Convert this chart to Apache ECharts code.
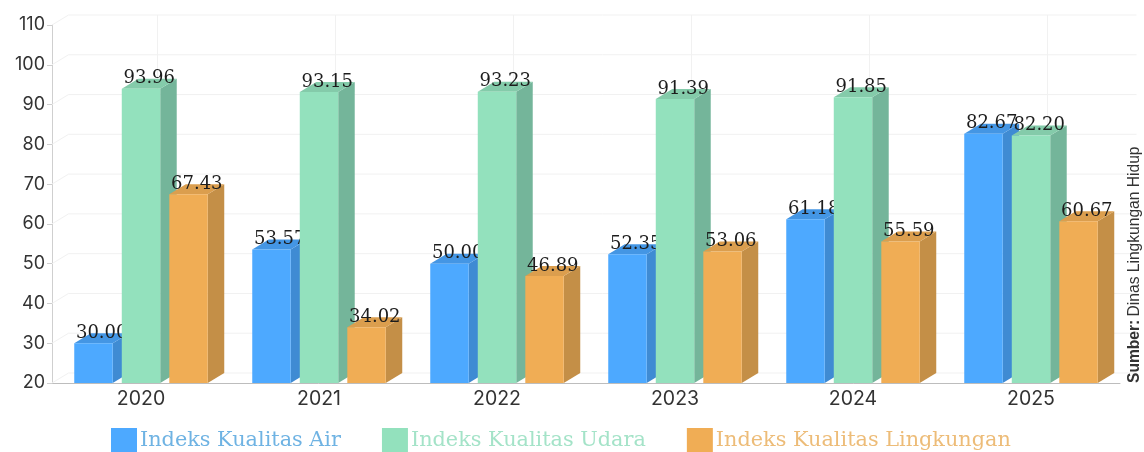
<!DOCTYPE html>
<html><head><meta charset="utf-8">
<style>html,body{margin:0;padding:0;background:#fff}#c{width:1144px;height:452px}</style>
<script src="https://cdn.jsdelivr.net/npm/echarts@6/dist/echarts.min.js"></script>
</head><body><div id="c"></div>
<script>
const categories = ['2020','2021','2022','2023','2024','2025'];
const airValues = [30.00,53.57,50.00,52.35,61.18,82.67];
const udaraValues = [93.96,93.15,93.23,91.39,91.85,82.20];
const lingkunganValues = [67.43,34.02,46.89,53.06,55.59,60.67];
const yTicks = [20,30,40,50,60,70,80,90,100,110];
const seriesNames = ['Indeks Kualitas Air','Indeks Kualitas Udara','Indeks Kualitas Lingkungan'];
const legendTextColors = ['#6FB3E3','#A4E3C8','#EDBC78'];

const DX = 16.5, DY = 10;
const BAR = 0.216, GAP = 0.267;
const shades = [
  {front:'#4DA9FF', side:'#3F8BD3', top:'#4496E4'},
  {front:'#93E1BD', side:'#74B59A', top:'#84CBAA'},
  {front:'#F0AD55', side:'#C48F47', top:'#DB9E4E'}
];
function poly(pts, fill){ return {type:'polygon', shape:{points:pts}, style:{fill:fill}}; }
function barRender(si){
  return function(params, api){
    const cat = api.value(0), val = api.value(1);
    const step = api.size([1,0])[0];
    const w = step*BAR;
    const top = api.coord([cat,val]), base = api.coord([cat,20]);
    const x0 = top[0] + (si-1)*step*GAP - w/2, x1 = x0 + w, yt = top[1], yb = base[1];
    const c = shades[si];
    return {type:'group', children:[
      poly([[x1,yb],[x1+DX,yb-DY],[x1+DX,yt-DY],[x1,yt]], c.side),
      poly([[x0,yt],[x1,yt],[x1+DX,yt-DY],[x0+DX,yt-DY]], c.top),
      {type:'rect', shape:{x:x0,y:yt,width:w,height:yb-yt}, style:{fill:c.front}},
      {type:'text', style:{text:val.toFixed(2), x:(x0+x1+DX)/2, y:yt-10, align:'center', verticalAlign:'middle',
        fontFamily:'DejaVu Serif', fontSize:18, fill:'#1c1c1c'}}
    ]};
  };
}
function barSeries(i, values){
  return {name:seriesNames[i], type:'custom', coordinateSystem:'cartesian2d', z:3,
    itemStyle:{color:shades[i].front}, renderItem:barRender(i), encode:{x:0,y:1},
    data:values.map((v,k)=>[k,v]), silent:true, animation:false};
}
const wallH = {name:'wallH', type:'custom', z:1, silent:true, animation:false, encode:{x:0,y:1},
  data:yTicks.map(v=>[0,v]),
  renderItem(params, api){
    const v = api.value(1), p = api.coord([0,v]), cs = params.coordSys;
    const l = cs.x, r = cs.x+cs.width, col = '#F1F1F1';
    return {type:'polyline', shape:{points:[[l,p[1]],[l+DX,p[1]-DY],[r+DX,p[1]-DY]]}, style:{stroke:col,lineWidth:1,fill:null}};
  }};
const wallV = {name:'wallV', type:'custom', z:1, silent:true, animation:false, encode:{x:0,y:1},
  data:categories.map((c,k)=>[k,110]),
  renderItem(params, api){
    const a = api.coord([api.value(0),110]), b = api.coord([api.value(0),20]);
    return {type:'line', shape:{x1:a[0]+DX,y1:a[1]-DY,x2:b[0]+DX,y2:b[1]-DY}, style:{stroke:'#F1F1F1',lineWidth:1}};
  }};

const legendFont = {fontFamily:'DejaVu Serif', fontSize:20.8, fontWeight:'normal', padding:[6,0,0,-2]};
const chart = echarts.init(document.getElementById('c'), null, {renderer:'canvas'});
chart.setOption({
  animation:false, backgroundColor:'#fff',
  grid:{left:52,right:24,top:25,bottom:69},
  legend:{left:106, top:423, itemWidth:26, itemHeight:25, itemGap:41, icon:'rect',
    data:seriesNames.map((n,i)=>({name:n, textStyle:Object.assign({color:legendTextColors[i]},legendFont)})),
    textStyle:legendFont, selectedMode:false},
  xAxis:{type:'category', data:categories,
    axisLine:{lineStyle:{color:'#BDBDBD'}}, axisTick:{alignWithLabel:true,length:4,lineStyle:{color:'#BDBDBD'}},
    axisLabel:{fontFamily:'Inter', fontSize:19.5, color:'#333', margin:6}, splitLine:{show:false}},
  yAxis:{type:'value', min:20, max:110, interval:10,
    axisLine:{show:true,lineStyle:{color:'#CFCFCF'}}, axisTick:{show:true,length:5,lineStyle:{color:'#CFCFCF'}},
    axisLabel:{fontFamily:'Inter', fontSize:18, color:'#333', margin:7}, splitLine:{show:false}},
  graphic:[{type:'text', x:1135, y:383, rotation:Math.PI/2, z:10,
    style:{text:'{b|Sumber:} {r|Dinas Lingkungan Hidup}', align:'left', verticalAlign:'middle',
      rich:{b:{fontFamily:'Liberation Sans',fontSize:15.6,fontWeight:'bold',fill:'#333',color:'#333'},
            r:{fontFamily:'Liberation Sans',fontSize:15.6,fill:'#333',color:'#333'}}}}],
  series:[wallH, wallV, barSeries(0,airValues), barSeries(1,udaraValues), barSeries(2,lingkunganValues)]
});
</script></body></html>
